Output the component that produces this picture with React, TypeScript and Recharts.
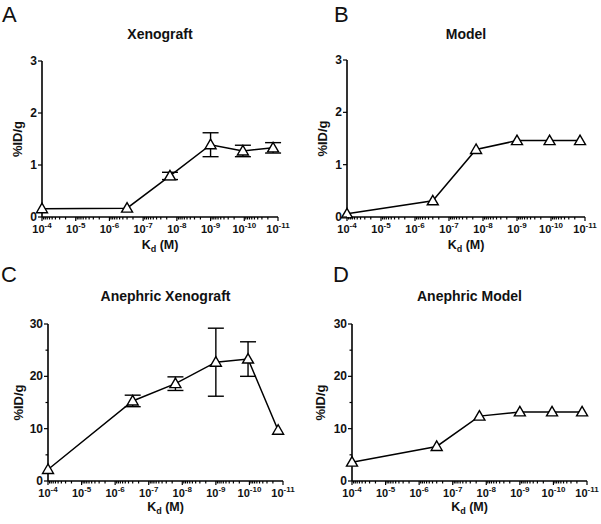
import { ErrorBar, Line, LineChart, XAxis, YAxis } from 'recharts';

// Kd (M) of each construct
const kd = [1e-4, 3e-7, 1.6e-8, 1e-9, 1.1e-10, 1.4e-11];

const xenograft = [0.16, 0.17, 0.79, 1.39, 1.27, 1.33];
const xenograftErr = [0, 0, 0.07, 0.23, 0.11, 0.1];
const model = [0.06, 0.31, 1.29, 1.46, 1.46, 1.46];
const anephricXenograft = [2.2, 15.3, 18.6, 22.7, 23.3, 9.7];
const anephricXenograftErr = [0, 1.1, 1.3, 6.5, 3.3, 0];
const anephricModel = [3.6, 6.6, 12.4, 13.2, 13.2, 13.2];

const decades = [-4, -5, -6, -7, -8, -9, -10, -11];
const minorSteps = [2, 3, 4, 5, 6, 7, 8, 9];
const smallTicks = [0, 1, 2, 3];
const largeTicks = [0, 5, 10, 15, 20, 25, 30];

const FONT = '"Liberation Sans", Arial, sans-serif';

const xTicks: number[] = decades.map((d) => Number(Math.pow(10, d).toPrecision(3)));
decades.slice(1).forEach((d) => {
  minorSteps.forEach((k) => xTicks.push(Number((k * Math.pow(10, d)).toPrecision(3))));
});

const isDecade = (v: number) => {
  const l = Math.log10(v);
  return Math.abs(l - Math.round(l)) < 1e-6;
};

const XTick = (props: any) => {
  const { x, y, payload } = props;
  const v = payload.value;
  const major = isDecade(v);
  const e = Math.round(Math.log10(v));
  return (
    <g>
      <line x1={x} x2={x} y1={y} y2={y + (major ? 4 : 2.5)} stroke='#000' strokeWidth={1.2} />
      {major && (
        <text x={x} y={y + 16} textAnchor='middle' fontFamily={FONT} fontWeight='bold' fontSize={11} fill='#111'>
          <tspan>10</tspan>
          <tspan dy={-5} fontSize={8}>{e}</tspan>
        </text>
      )}
    </g>
  );
};

const YTick = (props: any) => {
  const { x, y, payload, step } = props;
  const v = payload.value;
  const major = v % step === 0;
  return (
    <g>
      <line x1={x} x2={x - (major ? 4 : 2.5)} y1={y} y2={y} stroke='#000' strokeWidth={1.2} />
      {major && (
        <text x={x - 5} y={y + 4} textAnchor='end' fontFamily={FONT} fontWeight='bold' fontSize={12} fill='#111'>
          {v}
        </text>
      )}
    </g>
  );
};

const Triangle = (props: any) => {
  const { cx, cy } = props;
  if (cx == null || cy == null) return null;
  return (
    <polygon
      points={`${cx},${cy - 5.5} ${cx - 5.5},${cy + 4} ${cx + 5.5},${cy + 4}`}
      fill='#fff'
      stroke='#000'
      strokeWidth={1.4}
    />
  );
};

interface PanelProps {
  letter: string;
  title: string;
  values: number[];
  errors?: number[];
  yMax: number;
  left: number;
  top: number;
  plotLeft: number;
  plotRight: number;
  plotTop: number;
  plotBottom: number;
  letterX: number;
  letterY: number;
  yLabelX: number;
}

const W = 300;
const H = 262;

const Panel: React.FC<PanelProps> = (p) => {
  const data = kd.map((k, i) => ({ kd: k, value: p.values[i], err: p.errors ? p.errors[i] : 0 }));
  const large = p.yMax > 3;
  const center = (p.plotLeft + p.plotRight) / 2;
  const midY = (p.plotTop + p.plotBottom) / 2;
  return (
    <div style={{ position: 'absolute', left: p.left, top: p.top, width: W, height: H }}>
      <LineChart
        width={W}
        height={H}
        data={data}
        margin={{ top: p.plotTop, right: W - p.plotRight, bottom: H - p.plotBottom - 30, left: 0 }}
      >
        <XAxis
          dataKey='kd'
          type='number'
          scale='log'
          domain={[1e-11, 1e-4]}
          reversed
          ticks={xTicks}
          interval={0}
          height={30}
          tickSize={0}
          tickMargin={0}
          tickLine={false}
          tick={<XTick />}
          axisLine={{ stroke: '#000', strokeWidth: 1.6 }}
        />
        <YAxis
          type='number'
          domain={[0, p.yMax]}
          ticks={large ? largeTicks : smallTicks}
          interval={0}
          width={p.plotLeft}
          tickSize={0}
          tickMargin={0}
          tickLine={false}
          tick={<YTick step={large ? 10 : 1} />}
          axisLine={{ stroke: '#000', strokeWidth: 1.6 }}
        />
        <Line
          type='linear'
          dataKey='value'
          stroke='#000'
          strokeWidth={1.5}
          dot={<Triangle />}
          isAnimationActive={false}
        >
          {p.errors && <ErrorBar dataKey='err' width={8} stroke='#000' strokeWidth={1.4} direction='y' />}
        </Line>
      </LineChart>
      <svg width={W} height={H} style={{ position: 'absolute', left: 0, top: 0, pointerEvents: 'none' }}>
        <text x={p.letterX} y={p.letterY} fontFamily={FONT} fontSize={22} fill='#111'>
          {p.letter}
        </text>
        <text x={center} y={39} textAnchor='middle' fontFamily={FONT} fontWeight='bold' fontSize={14} fill='#111'>
          {p.title}
        </text>
        <text x={center} y={249} textAnchor='middle' fontFamily={FONT} fontWeight='bold' fontSize={12.5} fill='#111'>
          <tspan>K</tspan>
          <tspan dy={3} fontSize={9}>d</tspan>
          <tspan dy={-3}> (M)</tspan>
        </text>
        <text
          x={0}
          y={0}
          transform={`translate(${p.yLabelX + 4.5},${midY}) rotate(-90)`}
          textAnchor='middle'
          fontFamily={FONT}
          fontWeight='bold'
          fontSize={13}
          fill='#111'
        >
          %ID/g
        </text>
      </svg>
    </div>
  );
};

export default function App() {
  return (
    <div style={{ position: 'absolute', left: 0, top: 0, width: 601, height: 524, background: '#fff' }}>
      <Panel letter='A' title='Xenograft' values={xenograft} errors={xenograftErr} yMax={3}
        left={0} top={0} plotLeft={42} plotRight={278} plotTop={61} plotBottom={217}
        letterX={2} letterY={22} yLabelX={17} />
      <Panel letter='B' title='Model' values={model} yMax={3}
        left={300} top={0} plotLeft={47} plotRight={285} plotTop={60} plotBottom={217}
        letterX={34} letterY={22} yLabelX={22} />
      <Panel letter='C' title='Anephric Xenograft' values={anephricXenograft} errors={anephricXenograftErr} yMax={30}
        left={0} top={262} plotLeft={48} plotRight={283} plotTop={62} plotBottom={219}
        letterX={1} letterY={20} yLabelX={18} />
      <Panel letter='D' title='Anephric Model' values={anephricModel} yMax={30}
        left={300} top={262} plotLeft={52} plotRight={287} plotTop={62} plotBottom={219}
        letterX={33} letterY={20} yLabelX={20} />
    </div>
  );
}
